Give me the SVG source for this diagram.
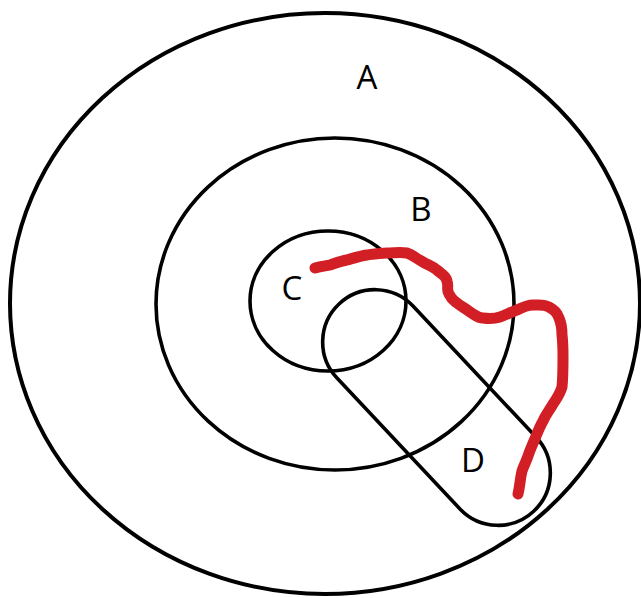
<svg xmlns="http://www.w3.org/2000/svg" width="641" height="598" viewBox="0 0 641 598">
<style>
.ring{fill:none;stroke:#000;stroke-width:3.6}
.lbl{font-family:"Open Sans","Noto Sans",sans-serif;font-size:33px;fill:#000;text-anchor:middle}
.trail{fill:none;stroke:#d21f26;stroke-width:11;stroke-linecap:round;stroke-linejoin:round}
</style>
<rect width="641" height="598" fill="#fff"/>
<g id="A">
<ellipse class="ring" cx="325" cy="303.5" rx="315" ry="290.5" style="stroke-width:4"/>
<text class="lbl" x="367" y="89">A</text>
</g>
<g id="B">
<ellipse class="ring" cx="335" cy="304" rx="179" ry="166"/>
<text class="lbl" x="421" y="221">B</text>
</g>
<g id="C">
<ellipse class="ring" cx="328" cy="301" rx="78" ry="70"/>
<text class="lbl" x="292" y="300">C</text>
</g>
<g id="D">
<path class="ring" d="M413,306 L536,437 A52,52 0 0 1 460,509 L337,378 A52,52 0 0 1 413,306 Z"/>
<text class="lbl" x="473" y="472">D</text>
</g>
<g id="connectors">
<path class="trail" d="M315,268 C322,266 326,266 330,265 C336,263 341,261 347,260 C354,258 360,256 367,255 C374,254 380,253 387,253 C394,253 400,252 407,253 C413,255 417,259 423,262 C428,265 432,266 437,270 C441,274 446,275 447,281 C449,287 446,289 449,294 C452,300 453,300 457,303 C462,307 465,308 470,312 C475,315 478,318 483,318 C490,319 494,319 500,317 C506,315 511,312 517,310 C523,307 528,305 533,305 C539,305 544,304 549,307 C554,310 557,312 559,318 C562,325 562,329 562,335 C563,343 563,350 563,357 C563,368 563,377 562,387 C560,394 557,398 553,404 C549,411 546,414 543,421 C539,428 537,434 534,441 C531,448 530,450 528,456 C526,462 524,465 522,471 C520,479 520,486 518,494"/>
</g>
</svg>
